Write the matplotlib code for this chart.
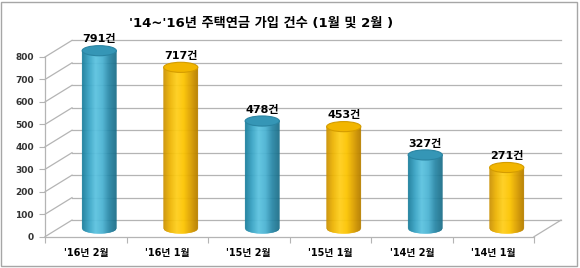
import matplotlib
matplotlib.use("Agg")
import matplotlib.pyplot as plt
import numpy as np
from matplotlib.patches import Ellipse, Rectangle
from matplotlib.colors import LinearSegmentedColormap

plt.rcParams['font.family'] = ['DejaVu Sans', 'Noto Sans CJK KR']

# 데이터
categories = ["'16년 2월", "'16년 1월", "'15년 2월", "'15년 1월", "'14년 2월", "'14년 1월"]
values = [791, 717, 478, 453, 327, 271]
labels = ["791건", "717건", "478건", "453건", "327건", "271건"]
yticks = [0, 100, 200, 300, 400, 500, 600, 700, 800]
title = "'14~'16년 주택연금 가입 건수 (1월 및 2월 )"

blue_cmap = LinearSegmentedColormap.from_list(
    "b", ["#1e7f9c", "#3aa3c4", "#5cc3e0", "#4ab2d2", "#2686a6", "#1a6e88"])
gold_cmap = LinearSegmentedColormap.from_list(
    "g", ["#c98f00", "#eeb400", "#ffcf1a", "#fcc400", "#dca000", "#b88000"])
cmaps = [blue_cmap, gold_cmap] * 3
tops = ["#3596b6", "#f2b600"] * 3
rims = ["#2a84a2", "#d49c00"] * 3

fig = plt.figure(figsize=(5.8, 2.68), dpi=100)
fig.patch.set_facecolor("white")
fig.add_artist(Rectangle((0.002, 0.006), 0.992, 0.988, transform=fig.transFigure,
                         fill=False, edgecolor="#a6a6a6", linewidth=1.0))

ax = fig.add_axes([45 / 580, (268 - 236.7) / 268, 489 / 580, 179.7 / 268])
n = len(values)
ax.set_xlim(-0.5, n - 0.5)
ax.set_ylim(0, 800)

# 3D 깊이 (데이터 단위)
DX = 27 / 81.5
DY = 74
grid_c = "#b4b4b4"

for v in yticks:
    ax.plot([-0.5 + DX, n - 0.5 + DX], [v + DY, v + DY], color=grid_c, lw=0.9, clip_on=False, zorder=1)
    ax.plot([-0.5, -0.5 + DX], [v, v + DY], color=grid_c, lw=0.9, clip_on=False, zorder=1)
# 바닥
ax.plot([-0.5, n - 0.5], [0, 0], color=grid_c, lw=0.9, clip_on=False, zorder=1)
ax.plot([n - 0.5, n - 0.5 + DX], [0, DY], color=grid_c, lw=0.9, clip_on=False, zorder=1)
ax.plot([-0.5, -0.5], [0, 800], color=grid_c, lw=0.9, clip_on=False, zorder=1)

# 원통형 막대 (세로 띠로 음영 표현)
w = 0.42
eh = 45
nstrip = 34
for i, v in enumerate(values):
    cx = i + DX / 2
    base = DY / 2
    top = v + DY / 2
    edges = np.linspace(cx - w / 2, cx + w / 2, nstrip + 1)
    for k in range(nstrip):
        xa, xb = edges[k], edges[k + 1]
        ua = np.clip((xa - cx) / (w / 2), -1, 1)
        ub = np.clip((xb - cx) / (w / 2), -1, 1)
        ya = base - eh / 2 * np.sqrt(1 - ua ** 2)
        yb = base - eh / 2 * np.sqrt(1 - ub ** 2)
        col = cmaps[i]((k + 0.5) / nstrip)
        ax.fill([xa, xb, xb, xa], [ya, yb, top, top], color=col, lw=0.3,
                edgecolor=col, zorder=3, clip_on=False)
    ax.add_patch(Ellipse((cx, top), w, eh, facecolor=tops[i], edgecolor=rims[i],
                         linewidth=0.8, zorder=4, clip_on=False))
    ax.text(cx, top + eh / 2 + 6, labels[i], ha="center", va="bottom",
            fontsize=8, fontweight="bold", zorder=5, clip_on=False)

for s in ax.spines.values():
    s.set_visible(False)
ax.set_yticks(yticks)
ax.set_yticklabels([str(v) for v in yticks], fontsize=6.5, fontweight="bold", color="#333333")
ax.tick_params(axis="y", length=4, color=grid_c, pad=4)
ax.set_xticks(np.arange(-0.5, n, 1.0), minor=False)
ax.set_xticklabels([])
ax.tick_params(axis="x", length=4, color=grid_c)
ax.set_xticks(np.arange(n), minor=True)
ax.set_xticklabels(categories, minor=True, fontsize=7, fontweight="bold")
ax.tick_params(axis="x", which="minor", length=0, pad=8)
ax.patch.set_visible(False)

fig.text(261 / 580, 1 - 23 / 268, title, ha="center", va="center",
         fontsize=9.5, fontweight="bold")

fig.savefig("out.png", dpi=100)
